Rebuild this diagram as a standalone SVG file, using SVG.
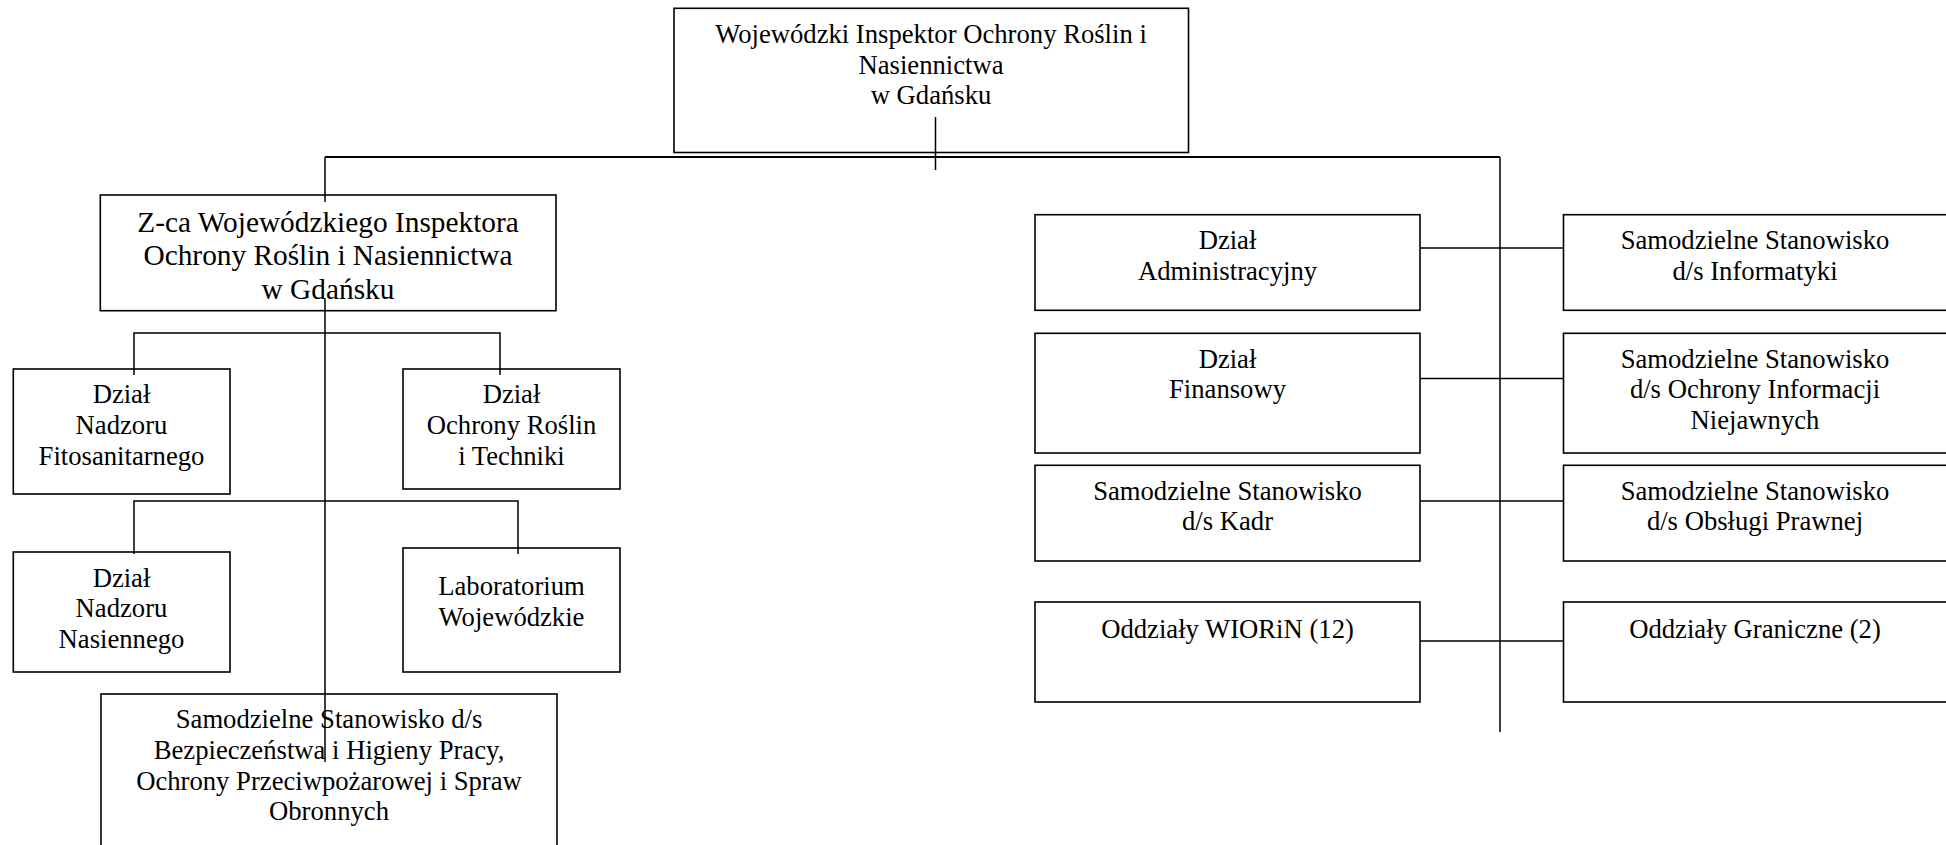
<svg xmlns="http://www.w3.org/2000/svg" width="1946" height="845" viewBox="0 0 1946 845">
<style>
.box{fill:#fff;stroke:#000;stroke-width:1.6}
.t{font-family:"Liberation Serif","Times New Roman",serif;font-size:26.67px;fill:#000;text-anchor:middle}
.big{font-size:29.33px}
.c{stroke:#000;stroke-width:1.5;fill:none}
</style>
<rect width="1946" height="845" fill="#fff"/>
<g id="n-top"><rect class="box" x="674" y="8.3" width="514.5" height="144.2"/>
<text class="t" x="931" y="43.3">Wojewódzki Inspektor Ochrony Roślin i</text>
<text class="t" x="931" y="73.8">Nasiennictwa</text>
<text class="t" x="931" y="104.3">w Gdańsku</text></g>
<g id="n-zca"><rect class="box" x="100.3" y="195" width="455.7" height="115.7"/>
<text class="t big" x="328" y="231.7">Z-ca Wojewódzkiego Inspektora</text>
<text class="t big" x="328" y="265">Ochrony Roślin i Nasiennictwa</text>
<text class="t big" x="328" y="298.5">w Gdańsku</text></g>
<g id="n-fito"><rect class="box" x="13.3" y="369" width="216.7" height="125"/>
<text class="t" x="121.5" y="403.3">Dział</text>
<text class="t" x="121.5" y="434">Nadzoru</text>
<text class="t" x="121.5" y="464.7">Fitosanitarnego</text></g>
<g id="n-ochr"><rect class="box" x="403" y="369" width="217" height="120"/>
<text class="t" x="511.5" y="403.3">Dział</text>
<text class="t" x="511.5" y="434">Ochrony Roślin</text>
<text class="t" x="511.5" y="464.7">i Techniki</text></g>
<g id="n-nas"><rect class="box" x="13.3" y="552" width="216.7" height="120"/>
<text class="t" x="121.5" y="586.7">Dział</text>
<text class="t" x="121.5" y="617.3">Nadzoru</text>
<text class="t" x="121.5" y="648">Nasiennego</text></g>
<g id="n-lab"><rect class="box" x="403" y="548" width="217" height="124"/>
<text class="t" x="511.5" y="595">Laboratorium</text>
<text class="t" x="511.5" y="625.7">Wojewódzkie</text></g>
<g id="n-bhp"><rect class="box" x="101" y="694" width="456" height="176"/>
<text class="t" x="329" y="728.3">Samodzielne Stanowisko d/s</text>
<text class="t" x="329" y="759">Bezpieczeństwa i Higieny Pracy,</text>
<text class="t" x="329" y="789.7">Ochrony Przeciwpożarowej i Spraw</text>
<text class="t" x="329" y="820.3">Obronnych</text></g>
<g id="n-adm"><rect class="box" x="1035" y="214.7" width="385" height="95.6"/>
<text class="t" x="1227.5" y="249">Dział</text>
<text class="t" x="1227.5" y="279.7">Administracyjny</text></g>
<g id="n-fin"><rect class="box" x="1035" y="333.3" width="385" height="119.7"/>
<text class="t" x="1227.5" y="367.7">Dział</text>
<text class="t" x="1227.5" y="398.3">Finansowy</text></g>
<g id="n-kadr"><rect class="box" x="1035" y="465.3" width="385" height="95.7"/>
<text class="t" x="1227.5" y="499.7">Samodzielne Stanowisko</text>
<text class="t" x="1227.5" y="530.3">d/s Kadr</text></g>
<g id="n-wiorin"><rect class="box" x="1035" y="602" width="385" height="100"/>
<text class="t" x="1227.5" y="637.5">Oddziały WIORiN (12)</text></g>
<g id="n-inf"><rect class="box" x="1563.5" y="214.7" width="384" height="95.6"/>
<text class="t" x="1755" y="249">Samodzielne Stanowisko</text>
<text class="t" x="1755" y="279.7">d/s Informatyki</text></g>
<g id="n-niej"><rect class="box" x="1563.5" y="333.3" width="384" height="119.7"/>
<text class="t" x="1755" y="367.7">Samodzielne Stanowisko</text>
<text class="t" x="1755" y="398.3">d/s Ochrony Informacji</text>
<text class="t" x="1755" y="429">Niejawnych</text></g>
<g id="n-praw"><rect class="box" x="1563.5" y="465.3" width="384" height="95.7"/>
<text class="t" x="1755" y="499.7">Samodzielne Stanowisko</text>
<text class="t" x="1755" y="530.3">d/s Obsługi Prawnej</text></g>
<g id="n-gran"><rect class="box" x="1563.5" y="602" width="384" height="100"/>
<text class="t" x="1755" y="637.5">Oddziały Graniczne (2)</text></g>
<g id="connectors">
<path class="c" d="M935.5 117V170"/>
<path class="c" style="stroke-width:2" d="M325 157H1500"/>
<path class="c" d="M325 157V202"/>
<path class="c" d="M325 299V762"/>
<path class="c" d="M134 375V333H500V375"/>
<path class="c" d="M134 554V501H518V554"/>
<path class="c" d="M1500 157V732"/>
<path class="c" d="M1420 248H1563.5"/>
<path class="c" d="M1420 378.5H1563.5"/>
<path class="c" d="M1420 501H1563.5"/>
<path class="c" d="M1420 641H1563.5"/>
</g>
</svg>
